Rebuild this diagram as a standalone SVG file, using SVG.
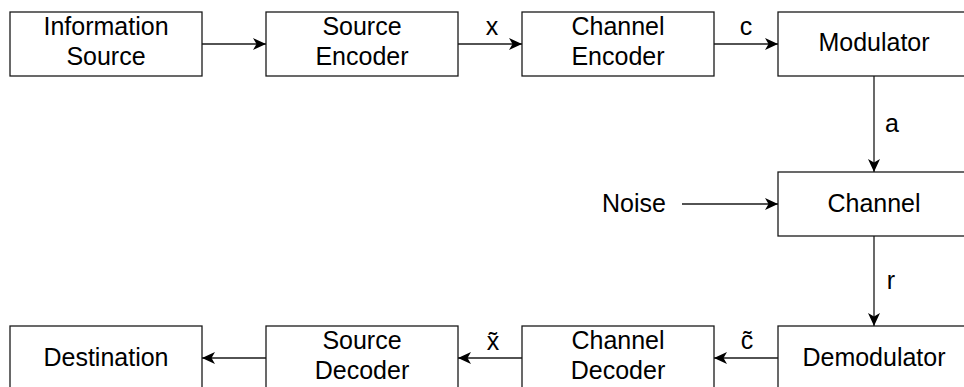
<svg xmlns="http://www.w3.org/2000/svg" width="964" height="387" viewBox="0 0 964 387">
<style>
.box{fill:#fff;stroke:#1a1a1a;stroke-width:1.3}
.t{font-family:"Liberation Sans",Arial,sans-serif;font-size:25px;fill:#000;text-anchor:middle}
.e{fill:none;stroke:#1a1a1a;stroke-width:1.3}
</style>
<defs>
<marker id="ah" markerUnits="userSpaceOnUse" markerWidth="14" markerHeight="12" refX="13" refY="6" orient="auto">
<path d="M0,0 L13,6 L0,12 L3.5,6 Z" fill="#000"/>
</marker>
</defs>
<rect width="964" height="387" fill="#fff"/>
<g id="info-source"><rect class="box" x="10" y="12" width="192" height="64"/><text class="t" x="106" y="35">Information</text><text class="t" x="106" y="65">Source</text></g>
<g id="source-encoder"><rect class="box" x="266" y="12" width="192" height="64"/><text class="t" x="362" y="35">Source</text><text class="t" x="362" y="65">Encoder</text></g>
<g id="channel-encoder"><rect class="box" x="522" y="12" width="192" height="64"/><text class="t" x="618" y="35">Channel</text><text class="t" x="618" y="65">Encoder</text></g>
<g id="modulator"><rect class="box" x="778" y="12" width="192" height="64"/><text class="t" x="874" y="51">Modulator</text></g>
<g id="channel"><rect class="box" x="778" y="172" width="192" height="64"/><text class="t" x="874" y="212">Channel</text></g>
<g id="noise"><text class="t" x="634" y="212">Noise</text></g>
<g id="demodulator"><rect class="box" x="778" y="326" width="192" height="64"/><text class="t" x="874" y="366">Demodulator</text></g>
<g id="channel-decoder"><rect class="box" x="522" y="326" width="192" height="64"/><text class="t" x="618" y="349">Channel</text><text class="t" x="618" y="379">Decoder</text></g>
<g id="source-decoder"><rect class="box" x="266" y="326" width="192" height="64"/><text class="t" x="362" y="349">Source</text><text class="t" x="362" y="379">Decoder</text></g>
<g id="destination"><rect class="box" x="10" y="326" width="192" height="64"/><text class="t" x="106" y="366">Destination</text></g>
<g id="connectors">
<line class="e" x1="202" y1="44" x2="266" y2="44" marker-end="url(#ah)"/>
<line class="e" x1="458" y1="44" x2="522" y2="44" marker-end="url(#ah)"/>
<line class="e" x1="714" y1="44" x2="778" y2="44" marker-end="url(#ah)"/>
<line class="e" x1="874" y1="76" x2="874" y2="172" marker-end="url(#ah)"/>
<line class="e" x1="682" y1="204" x2="778" y2="204" marker-end="url(#ah)"/>
<line class="e" x1="874" y1="236" x2="874" y2="326" marker-end="url(#ah)"/>
<line class="e" x1="778" y1="358" x2="714" y2="358" marker-end="url(#ah)"/>
<line class="e" x1="522" y1="358" x2="458" y2="358" marker-end="url(#ah)"/>
<line class="e" x1="266" y1="358" x2="202" y2="358" marker-end="url(#ah)"/>
<text class="t" x="492" y="35">x</text>
<text class="t" x="746" y="35">c</text>
<text class="t" x="892" y="132">a</text>
<text class="t" x="891" y="289">r</text>
<text class="t" x="493" y="350">x̃</text>
<text class="t" x="747" y="349">c̃</text>
</g>
</svg>
